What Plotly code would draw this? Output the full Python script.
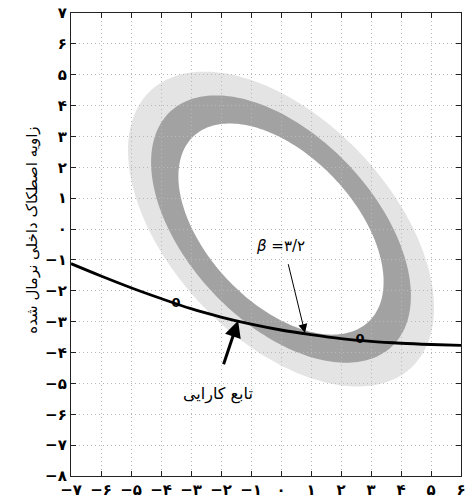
import numpy as np
import plotly.graph_objects as go

# Axis ticks and Persian labels
x_ticks = list(range(-7, 7))
y_ticks = list(range(-8, 8))
fa_digits = "۰۱۲۳۴۵۶۷۸۹"


def fa(n):
    s = "".join(fa_digits[int(c)] for c in str(abs(n)))
    return ("\u2212" + s) if n < 0 else s


x_labels = [fa(v) for v in x_ticks]
y_labels = [fa(v) for v in y_ticks]

# Reliability contours (correlated standard normal space): half-widths along x
ring_extents = [5.1, 4.33, 3.42]
ring_colors = ["#e4e4e4", "#a2a2a2", "#ffffff"]
rho = -0.5
center = (0.0, 0.0)

# Limit-state (performance function) curve g = 0
curve_x = [-7, -6, -5, -4, -3, -2, -1, 0, 1, 2, 3, 4, 5, 6]
curve_y = [-1.12, -1.52, -1.90, -2.25, -2.58, -2.85, -3.08, -3.27,
           -3.42, -3.55, -3.64, -3.70, -3.74, -3.77]

# Contour label positions on the g = 0 line
zero_label_x = [-3.5, 2.63]
zero_label_y = [-2.43, -3.60]

fig = go.Figure()

t = np.linspace(0, 2 * np.pi, 241)
shapes = []
for a, col in zip(ring_extents, ring_colors):
    ex = center[0] + a * np.cos(t)
    ey = center[1] + a * (rho * np.cos(t) + np.sqrt(1 - rho ** 2) * np.sin(t))
    path = "M " + " L ".join(f"{px:.4f},{py:.4f}" for px, py in zip(ex, ey)) + " Z"
    shapes.append(dict(type="path", path=path, xref="x", yref="y",
                       fillcolor=col, line=dict(width=0), layer="below"))

fig.add_trace(go.Scatter(x=curve_x, y=curve_y, mode="lines",
                         line=dict(color="black", width=2.8, shape="spline"),
                         hoverinfo="skip", showlegend=False))

fig.add_trace(go.Scatter(x=zero_label_x, y=zero_label_y, mode="text",
                         text=["0", "0"],
                         textfont=dict(family="DejaVu Sans", size=13, color="black",
                                       weight="bold"),
                         hoverinfo="skip", showlegend=False))

annotations = [
    # performance function pointer
    dict(x=-1.43, y=-2.97, ax=-1.93, ay=-4.43, xref="x", yref="y",
         axref="x", ayref="y", text="", showarrow=True, arrowhead=2,
         arrowsize=1.1, arrowwidth=3, arrowcolor="black"),
    dict(x=-2.1, y=-5.34, xref="x", yref="y", text="تابع کارایی",
         showarrow=False, font=dict(family="DejaVu Sans", size=16, color="black")),
    # reliability index pointer
    dict(x=0.8, y=-3.37, ax=0.23, ay=-1.09, xref="x", yref="y",
         axref="x", ayref="y", text="", showarrow=True, arrowhead=2,
         arrowsize=1.8, arrowwidth=1, arrowcolor="black"),
    dict(x=-0.03, y=-0.54, xref="x", yref="y", text="<i>β</i> =۳/۲",
         showarrow=False, font=dict(family="DejaVu Sans", size=15, color="black")),
    # y-axis title
    dict(x=-0.128, y=0.53, xref="paper", yref="paper",
         text="زاویه اصطکاک داخلی نرمال شده", textangle=-90,
         showarrow=False, font=dict(family="DejaVu Sans", size=15, color="black")),
]

axis_common = dict(
    showgrid=True, gridcolor="#b8b8b8", griddash="1px,3px", gridwidth=1,
    zeroline=False, showline=True, linecolor="#222222", linewidth=1.3,
    mirror="ticks", ticks="inside", ticklen=5, tickcolor="#222222",
    ticklabeloverflow="allow", automargin=False,
    tickfont=dict(family="DejaVu Sans", size=15, color="black", weight="bold"),
)

fig.update_layout(
    width=466, height=503,
    margin=dict(l=71, r=5, t=13, b=27, autoexpand=False),
    paper_bgcolor="white", plot_bgcolor="white",
    shapes=shapes, annotations=annotations,
    xaxis=dict(range=[-7, 6.0001], tickvals=x_ticks, ticktext=x_labels, **axis_common),
    yaxis=dict(range=[-8, 7.0001], tickvals=y_ticks, ticktext=y_labels, **axis_common),
    showlegend=False,
)

fig.write_html("out.html")
